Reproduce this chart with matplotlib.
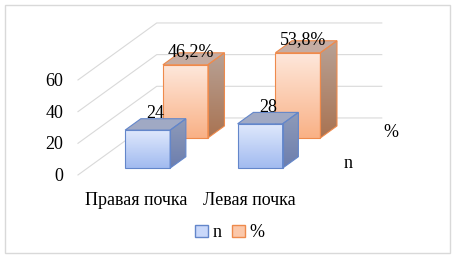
import numpy as np
import matplotlib
matplotlib.use('Agg')
from matplotlib import pyplot as plt
from matplotlib.patches import Polygon, Rectangle, Patch

categories = ['Правая почка', 'Левая почка']
series_names = ['n', '%']
n_values = [24, 28]
pct_values = [46.2, 53.8]
n_labels = ['24', '28']
pct_labels = ['46,2%', '53,8%']
y_ticks = [0, 20, 40, 60]

# oblique "3d" projection: depth d in 0..1 moves a point by (d*DX, d*DY)
DX, DY = 0.70, 36.0
BAR_W = 0.4
FONT = 'Liberation Serif'
FS = 13
GRID = '#d9d9d9'


def proj(x, v, d):
    return (x + d * DX, v + d * DY)


def gradient_face(ax, pts, top_col, bot_col, z):
    poly = Polygon(pts, closed=True, facecolor='none', edgecolor='none')
    ax.add_patch(poly)
    xs = [p[0] for p in pts]
    ys = [p[1] for p in pts]
    c1 = np.array(matplotlib.colors.to_rgb(top_col))
    c2 = np.array(matplotlib.colors.to_rgb(bot_col))
    t = np.linspace(0, 1, 64)[:, None]
    img = (c1 * (1 - t) + c2 * t)[:, None, :]
    im = ax.imshow(img, extent=(min(xs), max(xs), min(ys), max(ys)),
                   origin='upper', aspect='auto', zorder=z, interpolation='bilinear')
    im.set_clip_path(poly)


def draw_bar(ax, xc, v, d0, d1, style, z):
    l, r = xc - BAR_W / 2, xc + BAR_W / 2
    front = [proj(l, 0, d0), proj(r, 0, d0), proj(r, v, d0), proj(l, v, d0)]
    side = [proj(r, 0, d0), proj(r, 0, d1), proj(r, v, d1), proj(r, v, d0)]
    top = [proj(l, v, d0), proj(r, v, d0), proj(r, v, d1), proj(l, v, d1)]
    gradient_face(ax, front, style['front'][0], style['front'][1], z)
    gradient_face(ax, side, style['side'][0], style['side'][1], z)
    ax.add_patch(Polygon(top, closed=True, facecolor=style['top'], edgecolor='none', zorder=z))
    for face in (front, side, top):
        ax.add_patch(Polygon(face, closed=True, facecolor='none',
                             edgecolor=style['edge'], lw=0.8, zorder=z + 0.5))


blue = {'front': ('#e0e9fc', '#a2bbf0'), 'side': ('#8f9bb9', '#6c7eae'),
        'top': '#a0a9c4', 'edge': '#6386ca'}
orange = {'front': ('#fee8dc', '#f9b186'), 'side': ('#b8a296', '#a97352'),
          'top': '#c5aca2', 'edge': '#ee8a4c'}

fig = plt.figure(figsize=(4.55, 2.6), dpi=100)
ax = fig.add_axes([0, 0, 1, 1])
ax.set_axis_off()

# walls: left side lines and back wall gridlines
for v in y_ticks:
    x0, y0 = proj(0, v, 0)
    x1, y1 = proj(0, v, 1)
    x2, y2 = proj(len(categories), v, 1)
    ax.plot([x0, x1, x2], [y0, y1, y2], color=GRID, lw=0.8, zorder=1)
    ax.text(-0.13, v - 1, str(v), ha='right', va='center', fontsize=FS, family=FONT)

centers = np.arange(len(categories)) + 0.5

# back row (%), then front row (n); front row sits a bit right (perspective)
for xc, v, lab in zip(centers, pct_values, pct_labels):
    draw_bar(ax, xc, v, 0.65, 0.86, orange, 3)
    x, y = proj(xc, v, 0.72)
    ax.text(x, y + 6, lab, ha='center', va='center', fontsize=FS, family=FONT, zorder=10)

for xc, v, lab in zip(centers + 0.035, n_values, n_labels):
    draw_bar(ax, xc, v, 0.12, 0.32, blue, 5)
    x, y = proj(xc, v, 0.22)
    ax.text(x, y + 7, lab, ha='center', va='center', fontsize=FS, family=FONT, zorder=10)

for xc, cat in zip(centers, categories):
    ax.text(xc + 0.02, -16, cat, ha='center', va='center', fontsize=FS, family=FONT)

# depth axis labels
for name, d in zip(series_names, [0.22, 0.755]):
    x, y = proj(len(categories), 0, d)
    ax.text(x + 0.25, y - 0.5, name, ha='center', va='center', fontsize=FS, family=FONT)

ax.set_xlim(-0.693, 3.351)
ax.set_ylim(-53.7, 110.5)

handles = [Patch(facecolor='#c9d8fa', edgecolor='#6386ca'),
           Patch(facecolor='#fbc8aa', edgecolor='#ee8a4c')]
fig.legend(handles, series_names, loc='center', bbox_to_anchor=(0.505, 0.105), ncol=2,
           frameon=False, prop={'family': FONT, 'size': FS}, handlelength=0.7,
           handleheight=0.7, handletextpad=0.25, columnspacing=0.6)

fig.patches.append(Rectangle((5 / 455, 7 / 260), 445 / 455, 248 / 260, transform=fig.transFigure,
                             fill=False, edgecolor='#d9d9d9', lw=1))

fig.savefig('out.png', dpi=100)
